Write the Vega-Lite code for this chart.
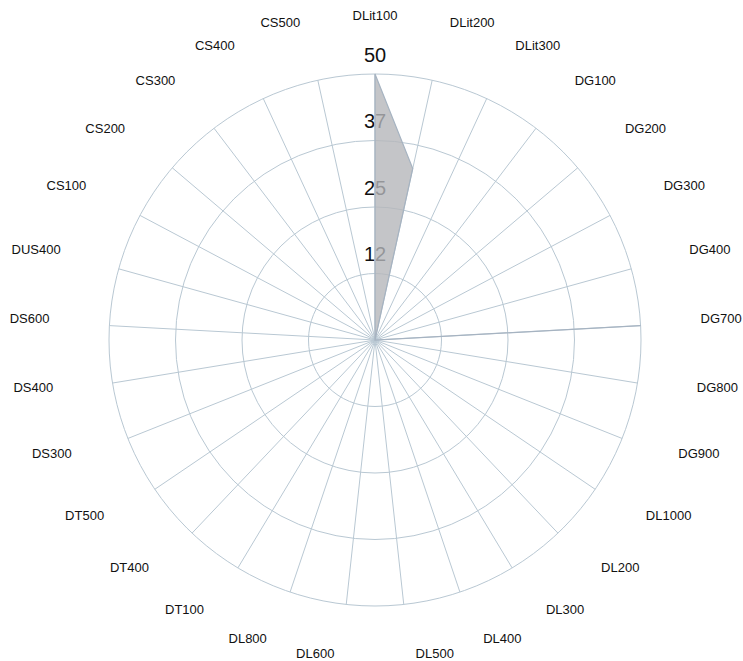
{
  "$schema": "https://vega.github.io/schema/vega-lite/v6.json",
  "width": 600,
  "height": 600,
  "autosize": {"type": "none"},
  "padding": {"left": 75, "top": 40, "right": 68, "bottom": 21},
  "background": "white",
  "config": {"view": {"stroke": null}, "font": "Liberation Sans"},
  "datasets": {
    "cats": [
      {"category": "DLit100", "value": 50},
      {"category": "DLit200", "value": 33},
      {"category": "DLit300", "value": 0},
      {"category": "DG100", "value": 0},
      {"category": "DG200", "value": 0},
      {"category": "DG300", "value": 0},
      {"category": "DG400", "value": 0},
      {"category": "DG700", "value": 50},
      {"category": "DG800", "value": 0},
      {"category": "DG900", "value": 0},
      {"category": "DL1000", "value": 0},
      {"category": "DL200", "value": 0},
      {"category": "DL300", "value": 0},
      {"category": "DL400", "value": 0},
      {"category": "DL500", "value": 0},
      {"category": "DL600", "value": 0},
      {"category": "DL800", "value": 0},
      {"category": "DT100", "value": 0},
      {"category": "DT400", "value": 0},
      {"category": "DT500", "value": 0},
      {"category": "DS300", "value": 0},
      {"category": "DS400", "value": 0},
      {"category": "DS600", "value": 0},
      {"category": "DUS400", "value": 0},
      {"category": "CS100", "value": 0},
      {"category": "CS200", "value": 0},
      {"category": "CS300", "value": 0},
      {"category": "CS400", "value": 0},
      {"category": "CS500", "value": 0}
    ],
    "rings": [
      {"ring": 12.5, "label": "12"},
      {"ring": 25, "label": "25"},
      {"ring": 37.5, "label": "37"},
      {"ring": 50, "label": "50"}
    ]
  },
  "data": {"name": "cats"},
  "transform": [
    {"window": [{"op": "row_number", "as": "rn"}]},
    {"joinaggregate": [{"op": "count", "as": "n"}]},
    {"calculate": "2*PI*(datum.rn-1)/datum.n", "as": "ang"},
    {"calculate": "datum.value*sin(datum.ang)", "as": "px"},
    {"calculate": "datum.value*cos(datum.ang)", "as": "py"},
    {"calculate": "50*sin(datum.ang)", "as": "gx"},
    {"calculate": "50*cos(datum.ang)", "as": "gy"},
    {"calculate": "60.15*sin(datum.ang)", "as": "lx"},
    {"calculate": "60.15*cos(datum.ang)", "as": "ly"},
    {"calculate": "sin(datum.ang) > 0.01 ? 'r' : (sin(datum.ang) < -0.01 ? 'l' : 'c')", "as": "side"}
  ],
  "layer": [
    {
      "data": {"name": "rings"},
      "mark": {"type": "point", "shape": "circle", "filled": false, "stroke": "#b9c8d3", "strokeWidth": 1, "opacity": 1},
      "encoding": {
        "x": {"datum": 0, "type": "quantitative", "scale": {"domain": [-56.39, 56.39], "nice": false, "zero": false}, "axis": null},
        "y": {"datum": 0, "type": "quantitative", "scale": {"domain": [-56.39, 56.39], "nice": false, "zero": false}, "axis": null},
        "size": {"field": "ring", "type": "quantitative", "scale": {"type": "pow", "exponent": 2, "domain": [0, 50], "range": [0, 283024]}, "legend": null}
      }
    },
    {
      "mark": {"type": "rule", "stroke": "#b9c8d3", "strokeWidth": 1},
      "encoding": {
        "x": {"field": "gx", "type": "quantitative"},
        "y": {"field": "gy", "type": "quantitative"},
        "x2": {"datum": 0},
        "y2": {"datum": 0}
      }
    },
    {
      "data": {"name": "rings"},
      "mark": {"type": "text", "fontSize": 20, "align": "center", "baseline": "alphabetic", "dy": -12, "color": "#111"},
      "encoding": {
        "x": {"datum": 0, "type": "quantitative"},
        "y": {"field": "ring", "type": "quantitative"},
        "text": {"field": "label"}
      }
    },
    {
      "mark": {"type": "line", "interpolate": "linear-closed", "fill": "#b5b7ba", "fillOpacity": 0.8, "stroke": "#a6b3c1", "strokeWidth": 1.2},
      "encoding": {
        "x": {"field": "px", "type": "quantitative"},
        "y": {"field": "py", "type": "quantitative"},
        "order": {"field": "rn", "type": "quantitative"}
      }
    },
    {
      "transform": [{"filter": "datum.side == 'r'"}],
      "mark": {"type": "text", "fontSize": 13, "align": "left", "baseline": "middle", "dx": 6, "dy": -4, "color": "#111"},
      "encoding": {
        "x": {"field": "lx", "type": "quantitative"},
        "y": {"field": "ly", "type": "quantitative"},
        "text": {"field": "category"}
      }
    },
    {
      "transform": [{"filter": "datum.side == 'l'"}],
      "mark": {"type": "text", "fontSize": 13, "align": "right", "baseline": "middle", "dx": -6, "dy": -4, "color": "#111"},
      "encoding": {
        "x": {"field": "lx", "type": "quantitative"},
        "y": {"field": "ly", "type": "quantitative"},
        "text": {"field": "category"}
      }
    },
    {
      "transform": [{"filter": "datum.side == 'c'"}],
      "mark": {"type": "text", "fontSize": 13, "align": "center", "baseline": "middle", "dy": -4, "color": "#111"},
      "encoding": {
        "x": {"field": "lx", "type": "quantitative"},
        "y": {"field": "ly", "type": "quantitative"},
        "text": {"field": "category"}
      }
    }
  ]
}
